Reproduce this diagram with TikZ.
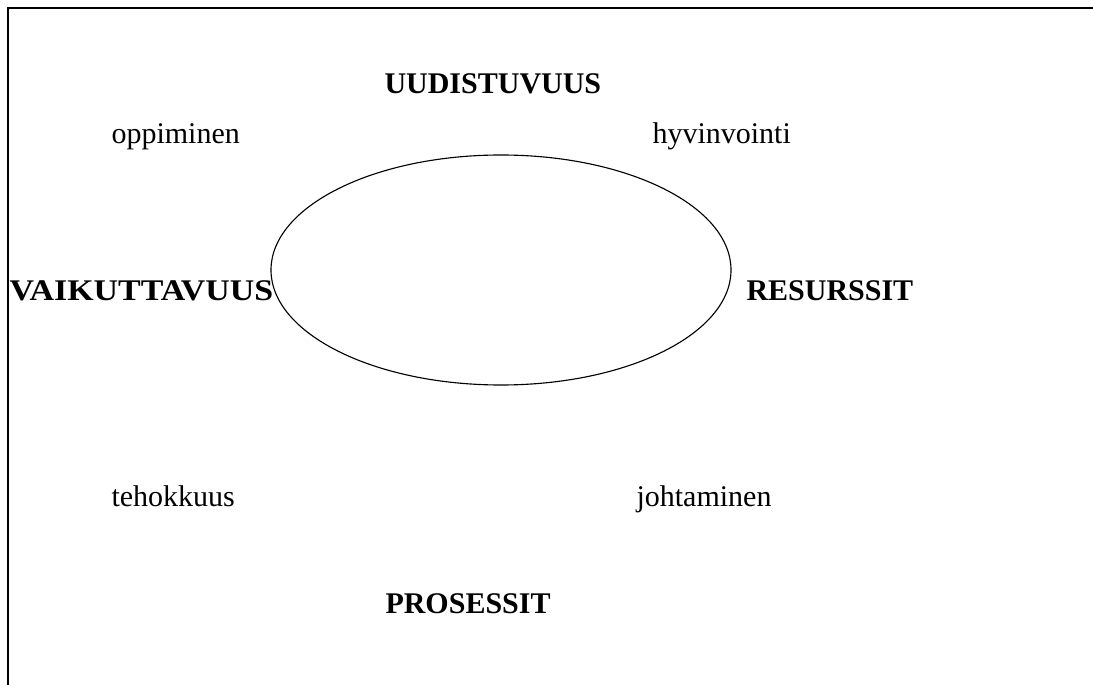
\documentclass[tikz,border=0pt]{standalone}
\usepackage{fontspec}
\setmainfont{Liberation Serif}
\begin{document}
\begin{tikzpicture}[x=0.4pt,y=-0.4pt,
    word/.style={inner sep=0pt, anchor=base west, font=\fontsize{12}{14}\selectfont},
    head/.style={word, font=\fontsize{12}{14}\selectfont\bfseries}]
    \useasboundingbox (0,0) rectangle (1093,685);
    \draw[line width=0.8pt] (8,685) -- (8,8) -- (1093,8);
    \draw[line width=0.45pt] (501,270) ellipse [x radius=92pt, y radius=46pt];
    \node[head] (uudis) at (384,94) {UUDISTUVUUS};
    \node[head] (vaik) at (9,301) {\scalebox{1.13}[1]{VAIKUTTAVUUS}};
    \node[head] (resurs) at (746,301) {RESURSSIT};
    \node[head] (proses) at (385,613) {PROSESSIT};
    \node[word] (oppim) at (111,144) {oppiminen};
    \node[word] (hyvin) at (652,144) {hyvinvointi};
    \node[word] (tehok) at (111,506) {tehokkuus};
    \node[word] (johta) at (636,506) {johtaminen};
\end{tikzpicture}
\end{document}
